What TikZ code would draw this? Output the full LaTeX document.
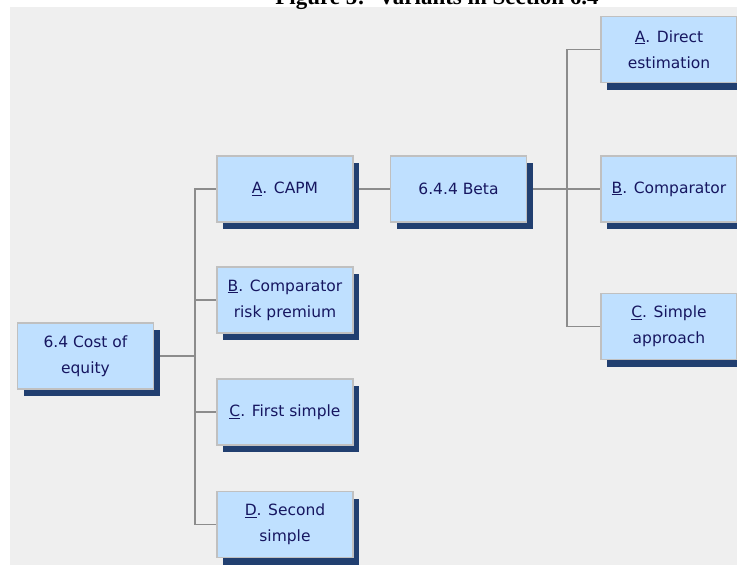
\documentclass[tikz,border=0pt]{standalone}
\usepackage{fontspec}
\setmainfont{DejaVu Sans}
\newfontfamily\titlefont{Liberation Serif}
\usetikzlibrary{shadows,backgrounds}
\definecolor{panelgray}{HTML}{EFEFEF}
\definecolor{boxblue}{HTML}{BFE0FF}
\definecolor{boxedge}{HTML}{C0C0C0}
\definecolor{shadenavy}{HTML}{213F70}
\definecolor{inknavy}{HTML}{161660}
\definecolor{linkgray}{HTML}{8C8C8C}
\tikzset{
  varnode/.style = {rectangle, align=center, inner sep=0pt, fill=boxblue,
    draw=boxedge, line width=1.5pt, text=inknavy, minimum width=136pt,
    minimum height=66pt, font=\fontsize{15.5}{26}\selectfont,
    drop shadow={shadow xshift=6pt, shadow yshift=-7pt, fill=shadenavy,
    opacity=1}},% boite de variante
  link/.style = {draw=linkgray, line width=1.6pt}% trait de liaison
}

\begin{document}
\begin{tikzpicture}[x=1pt,y=-1pt]
\useasboundingbox (0,0) rectangle (737,565);
\clip (0,0) rectangle (737,565);
\node [font=\titlefont\bfseries\fontsize{23}{23}\selectfont, anchor=base]
  (title) at (437,4) {Figure 5:~ Variants in Section 6.4};
% arbre des variantes
\node [varnode] (cost) at (85.5,356) {6.4 Cost of\\equity};
\node [varnode] (capm) at (285,189) {\underline{A}. CAPM};
\node [varnode] (riskprem) at (285,300) {\underline{B}. Comparator\\risk premium};
\node [varnode] (first) at (285,412) {\underline{C}. First simple};
\node [varnode] (second) at (285,524.5) {\underline{D}. Second\\simple};
\node [varnode] (beta) at (458.5,189) {6.4.4 Beta};
\node [varnode] (direct) at (669,49.5) {\underline{A}. Direct\\estimation};
\node [varnode] (comparator) at (669,189) {\underline{B}. Comparator};
\node [varnode] (simple) at (669,326.5) {\underline{C}. Simple\\approach};
\coordinate (lfork) at (195,356);
\coordinate (rfork) at (567,189);
\begin{scope}[on background layer]
  \fill [panelgray] (10,7) rectangle (737,565);
  \draw [link] (cost.east) -- (lfork);
  \foreach \v in {capm,riskprem,first,second}
    \draw [link] (lfork) |- (\v.west);
  \draw [link] (capm) -- (beta);
  \draw [link] (beta.east) -- (rfork);
  \foreach \v in {direct,comparator,simple}
    \draw [link] (rfork) |- (\v.west);
\end{scope}
\end{tikzpicture}
\end{document}
